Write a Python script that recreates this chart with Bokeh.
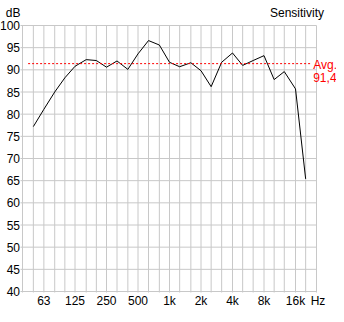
import math
from bokeh.plotting import figure
from bokeh.models import Range1d
from bokeh.core.properties import value
from bokeh.embed import file_html
from bokeh.resources import INLINE

# 1/3-octave band centre frequencies (Hz) and measured sensitivity (dB)
freqs = [50, 63, 80, 100, 125, 160, 200, 250, 315, 400, 500, 630, 800,
         1000, 1250, 1600, 2000, 2500, 3150, 4000, 5000, 6300, 8000,
         10000, 12500, 16000, 20000]
sens = [77.2, 81.1, 85.0, 88.2, 90.8, 92.3, 92.1, 90.6, 92.0, 90.1, 93.6,
        96.6, 95.6, 91.7, 90.7, 91.6, 89.8, 86.2, 91.7, 93.8, 91.0, 92.1,
        93.2, 87.8, 89.6, 85.7, 65.4]
avg = 91.4

y_ticks = [40, 45, 50, 55, 60, 65, 70, 75, 80, 85, 90, 95, 100]
x_tick_freqs = [63, 125, 250, 500, 1000, 2000, 4000, 8000, 16000]
x_tick_labels = ["63", "125", "250", "500", "1k", "2k", "4k", "8k", "16k"]
x_unit = "Hz"
y_unit = "dB"
title = "Sensitivity"

FONT = value("Liberation Sans")
GRID = "#c8c8c8"
TXT = "#000000"
RED = "#ff0000"

# plot box: 40 Hz .. 25 kHz (1/3-octave edges), 40 .. 100 dB
FMIN = 1000 * 2 ** (-14 / 3)
FMAX = 1000 * 2 ** (14 / 3)
YMIN, YMAX = y_ticks[0], y_ticks[-1]

# figure / box layout in pixels
W, H = 336, 314
BL, BR, BT, BB = 22, 316, 25, 291
kx = (math.log(FMAX) - math.log(FMIN)) / (BR - BL)
ky = (YMAX - YMIN) / (BB - BT)
x_range = Range1d(math.exp(math.log(FMIN) - BL * kx),
                  math.exp(math.log(FMAX) + (W - BR) * kx))
y_range = Range1d(YMIN - (H - BB) * ky, YMAX + BT * ky)

p = figure(width=W, height=H, x_axis_type="log", x_range=x_range,
           y_range=y_range, output_backend="svg", toolbar_location=None,
           min_border=0)
p.min_border_left = p.min_border_right = 0
p.min_border_top = p.min_border_bottom = 0
p.axis.visible = False
p.grid.visible = False
p.outline_line_color = None
p.background_fill_color = "white"
p.border_fill_color = "white"

# grid (including the box edges) with short tick stubs
vx = [FMIN] + freqs + [FMAX]
p.segment(x0=vx, y0=[YMIN - 1 * ky] * len(vx), x1=vx, y1=[YMAX] * len(vx),
          line_color=GRID, line_width=1)
p.segment(x0=[FMIN * math.exp(-2 * kx)] * len(y_ticks), y0=y_ticks,
          x1=[FMAX] * len(y_ticks), y1=y_ticks, line_color=GRID, line_width=1)

# data
p.line(freqs, sens, line_color="black", line_width=1)
p.line([freqs[0] / 2 ** (1 / 6), freqs[-1] * 2 ** (1 / 6)], [avg, avg],
       line_color=RED, line_width=1, line_dash="2 2")

common = dict(text_font=FONT, text_font_size="12px", text_baseline="middle")
# y tick labels
p.text(x=[FMIN] * len(y_ticks), y=y_ticks, text=[str(t) for t in y_ticks],
       text_align="right", x_offset=-2.5, text_color=TXT, **common)
# x tick labels
p.text(x=x_tick_freqs, y=[YMIN] * len(x_tick_freqs), text=x_tick_labels,
       text_align="center", y_offset=9, text_color=TXT, **common)
p.text(x=[FMAX], y=[YMIN], text=[x_unit], text_align="center",
       x_offset=1.5, y_offset=9, text_color=TXT, **common)
# unit and title
p.text(x=[FMIN], y=[YMAX], text=[y_unit], text_align="right",
       x_offset=-2, y_offset=-12.5, text_color=TXT, **common)
p.text(x=[FMAX], y=[YMAX], text=[title], text_align="right",
       x_offset=7.5, y_offset=-12.5, text_color=TXT, **common)
# average annotation
p.text(x=[FMAX, FMAX], y=[avg, avg],
       text=["Avg.", f"{avg:.1f}".replace(".", ",")],
       text_align="left", x_offset=-3.3, y_offset=[1.5, 13.5],
       text_color=RED, **common)

open("out.html", "w").write(file_html(p, INLINE))
